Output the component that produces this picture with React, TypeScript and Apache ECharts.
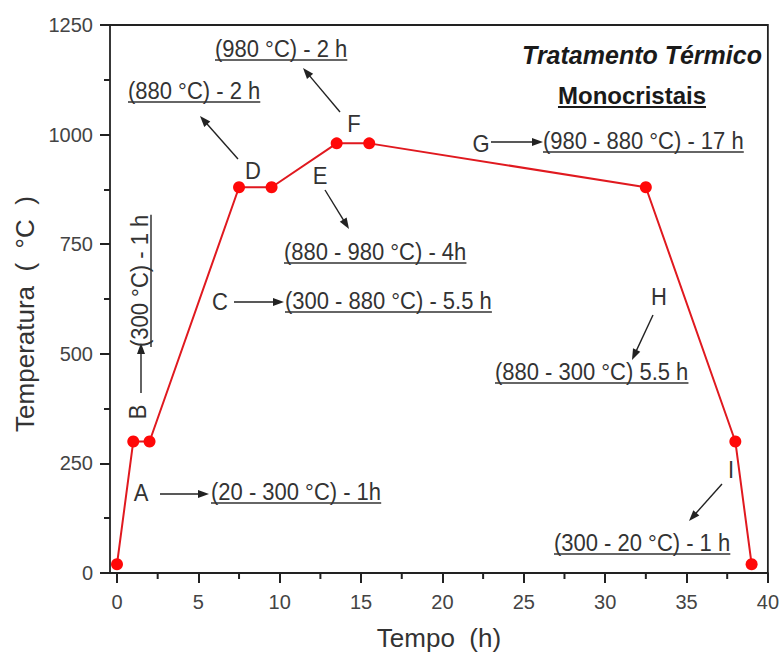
import React, { useEffect, useRef } from "react";
import * as echarts from "echarts";

// Thermal cycle: time (h) vs furnace temperature (°C)
const tempoH = [0, 1, 2, 7.5, 9.5, 13.5, 15.5, 32.5, 38, 39];
const temperaturaC = [20, 300, 300, 880, 880, 980, 980, 880, 300, 20];

const xMajorTicks = [0, 5, 10, 15, 20, 25, 30, 35, 40];
const xMinorTicks = [2.5, 7.5, 12.5, 17.5, 22.5, 27.5, 32.5, 37.5];

const stageLetters = ["A", "B", "C", "D", "E", "F", "G", "H", "I"];
const stageLabels = [
  "(20 - 300 °C) - 1h",
  "(300 °C) - 1 h",
  "(300 - 880 °C) - 5.5 h",
  "(880 °C) - 2 h",
  "(880 - 980 °C) - 4h",
  "(980 °C) - 2 h",
  "(980 - 880 °C) - 17 h",
  "(880 - 300 °C) 5.5 h",
  "(300 - 20 °C) - 1 h",
];

const titleLine1 = "Tratamento Térmico";
const titleLine2 = "Monocristais";

const FONT = '"Liberation Sans", Arial, sans-serif';
const INK = "#333";
const ARROW = "#222";
const AXIS = "#222";
const LABEL_SIZE = 22;
const X_MIN = -0.43;
const X_MAX = 40;
const Y_MAX = 1250;

// Layout of the stage annotations (pixels)
type Pt = [number, number];
interface StageLayout {
  letter: Pt;
  letterRotated?: boolean;
  arrow: [Pt, Pt];
  label: Pt; // left, vertical centre
  labelRotated?: boolean;
}
const stageLayout: StageLayout[] = [
  { letter: [141, 493], arrow: [[160, 494], [209, 494]], label: [211, 492] },
  { letter: [138, 412], letterRotated: true, arrow: [[141, 393], [141, 343]], label: [140, 347], labelRotated: true },
  { letter: [220, 302], arrow: [[234, 302], [284, 302]], label: [285, 301] },
  { letter: [253, 171], arrow: [[238, 159], [200, 116]], label: [128, 91] },
  { letter: [320, 176], arrow: [[325, 190], [349, 229]], label: [284, 252] },
  { letter: [354, 124], arrow: [[340, 112], [303, 68]], label: [215, 49] },
  { letter: [481, 144], arrow: [[491, 142], [543, 142]], label: [543, 141] },
  { letter: [659, 297], arrow: [[653, 315], [632, 360]], label: [495, 372] },
  { letter: [731, 470], arrow: [[722, 484], [689, 521]], label: [554, 543] },
];

let measureCtx: CanvasRenderingContext2D | null = null;
function textWidth(text: string, font: string): number {
  if (!measureCtx) measureCtx = document.createElement("canvas").getContext("2d");
  if (!measureCtx) return text.length * 11;
  measureCtx.font = font;
  return measureCtx.measureText(text).width;
}

function arrowElements(from: Pt, to: Pt): any[] {
  const [x1, y1] = from;
  const [x2, y2] = to;
  const dx = x2 - x1;
  const dy = y2 - y1;
  const len = Math.hypot(dx, dy) || 1;
  const ux = dx / len;
  const uy = dy / len;
  const headLen = 11;
  const headHalf = 4;
  const bx = x2 - ux * headLen;
  const by = y2 - uy * headLen;
  const px = -uy;
  const py = ux;
  return [
    {
      type: "line",
      shape: { x1, y1, x2: bx + ux * 2, y2: by + uy * 2 },
      style: { stroke: ARROW, lineWidth: 1.4 },
      silent: true,
    },
    {
      type: "polygon",
      shape: {
        points: [
          [x2, y2],
          [bx + px * headHalf, by + py * headHalf],
          [bx - px * headHalf, by - py * headHalf],
        ],
      },
      style: { fill: ARROW },
      silent: true,
    },
  ];
}

function underlinedText(text: string, size: number): any[] {
  const font = `normal normal ${size}px ${FONT}`;
  const w = textWidth(text, font);
  return [
    {
      type: "text",
      x: 0,
      y: 0,
      scaleY: 1.07,
      style: {
        text,
        x: 0,
        y: 0,
        fontSize: size,
        fontFamily: FONT,
        fill: INK,
        align: "left",
        verticalAlign: "middle",
      },
      silent: true,
    },
    {
      type: "line",
      shape: { x1: 0, y1: size * 0.5, x2: w, y2: size * 0.5 },
      style: { stroke: INK, lineWidth: 1.5 },
      silent: true,
    },
  ];
}

function buildGraphics(frame: { left: number; right: number; top: number; bottom: number }): any[] {
  const out: any[] = [];

  // top and right edges of the plot frame
  out.push({
    type: "polyline",
    shape: {
      points: [
        [frame.left, frame.top],
        [frame.right, frame.top],
        [frame.right, frame.bottom],
      ],
    },
    style: { stroke: AXIS, lineWidth: 1.8, fill: null },
    silent: true,
  });

  stageLayout.forEach((lay, i) => {
    out.push({
      type: "text",
      x: lay.letter[0],
      y: lay.letter[1],
      rotation: lay.letterRotated ? Math.PI / 2 : 0,
      scaleY: 1.07,
      style: {
        text: stageLetters[i],
        x: 0,
        y: 0,
        fontSize: LABEL_SIZE,
        fontFamily: FONT,
        fill: INK,
        align: "center",
        verticalAlign: "middle",
      },
      silent: true,
    });
    out.push(...arrowElements(lay.arrow[0], lay.arrow[1]));
    out.push({
      type: "group",
      x: lay.label[0],
      y: lay.label[1],
      rotation: lay.labelRotated ? Math.PI / 2 : 0,
      children: underlinedText(stageLabels[i], LABEL_SIZE),
    });
  });

  // title block
  out.push({
    type: "text",
    x: 642,
    y: 55,
    style: {
      text: titleLine1,
      x: 0,
      y: 0,
      fontSize: 25,
      fontFamily: FONT,
      fontWeight: "bold",
      fontStyle: "italic",
      fill: "#1a1a1a",
      align: "center",
      verticalAlign: "middle",
    },
    silent: true,
  });
  const t2Font = `normal bold 24px ${FONT}`;
  const t2w = textWidth(titleLine2, t2Font);
  out.push({
    type: "group",
    x: 632 - t2w / 2,
    y: 95,
    children: [
      {
        type: "text",
        style: {
          text: titleLine2,
          x: 0,
          y: 0,
          fontSize: 24,
          fontFamily: FONT,
          fontWeight: "bold",
          fill: "#1a1a1a",
          align: "left",
          verticalAlign: "middle",
        },
        silent: true,
      },
      {
        type: "line",
        shape: { x1: 0, y1: 12, x2: t2w, y2: 12 },
        style: { stroke: "#1a1a1a", lineWidth: 2 },
        silent: true,
      },
    ],
  });
  return out;
}

export default function App() {
  const ref = useRef<HTMLDivElement>(null);

  useEffect(() => {
    if (!ref.current) return;
    const chart = echarts.init(ref.current, undefined, { renderer: "svg" });

    chart.setOption({
      animation: false,
      grid: { left: 110, right: 14, top: 25, bottom: 86 },
      xAxis: [
        {
          type: "value",
          min: X_MIN,
          max: X_MAX,
          name: "Tempo  (h)",
          nameLocation: "middle",
          nameGap: 52,
          nameTextStyle: { fontSize: 26, fontFamily: FONT, color: INK },
          axisLine: { show: true, onZero: false, lineStyle: { color: AXIS, width: 1.8 } },
          axisTick: { show: true, customValues: xMajorTicks, length: 10, lineStyle: { color: AXIS, width: 2 } },
          axisLabel: {
            customValues: xMajorTicks,
            fontSize: 20,
            fontFamily: FONT,
            color: "#444",
            margin: 19,
            formatter: (v: number) => String(v),
          },
          splitLine: { show: false },
        },
      ],
      yAxis: [
        {
          type: "value",
          min: 0,
          max: Y_MAX,
          interval: 250,
          name: "Temperatura  (  °C  )",
          nameLocation: "middle",
          nameGap: 72,
          nameTextStyle: { fontSize: 26, fontFamily: FONT, color: INK, padding: [0, 30, 0, 0] },
          axisLine: { show: true, onZero: false, lineStyle: { color: AXIS, width: 1.8 } },
          axisTick: { show: true, length: 10, lineStyle: { color: AXIS, width: 2 } },
          minorTick: { show: true, splitNumber: 2, length: 6, lineStyle: { color: AXIS, width: 2 } },
          axisLabel: {
            fontSize: 20,
            fontFamily: FONT,
            color: "#444",
            margin: 17,
            formatter: (v: number) => String(v),
          },
          splitLine: { show: false },
        },
      ],
      series: [
        {
          type: "line",
          data: tempoH.map((t, i) => [t, temperaturaC[i]]),
          symbol: "circle",
          symbolSize: 12,
          lineStyle: { color: "#e0191f", width: 2 },
          itemStyle: { color: "#ff0808", borderWidth: 0 },
          clip: false,
        },
      ],
    });

    // frame corners from the axes' own scales
    const [left, top] = chart.convertToPixel({ gridIndex: 0 }, [X_MIN, Y_MAX]) as number[];
    const [right, bottom] = chart.convertToPixel({ gridIndex: 0 }, [X_MAX, 0]) as number[];

    // minor ticks on the time axis, placed through the axis scale
    const minorTickLines = xMinorTicks.map((v) => {
      const [px] = chart.convertToPixel({ gridIndex: 0 }, [v, 0]) as number[];
      return {
        type: "line",
        shape: { x1: px, y1: bottom, x2: px, y2: bottom + 6 },
        style: { stroke: AXIS, lineWidth: 2 },
        silent: true,
      };
    });

    chart.setOption({
      graphic: [...buildGraphics({ left, right, top, bottom }), ...minorTickLines],
    });

    return () => chart.dispose();
  }, []);

  return (
    <div
      ref={ref}
      style={{ position: "absolute", left: 0, top: 0, width: 782, height: 659, background: "#fff" }}
    />
  );
}
